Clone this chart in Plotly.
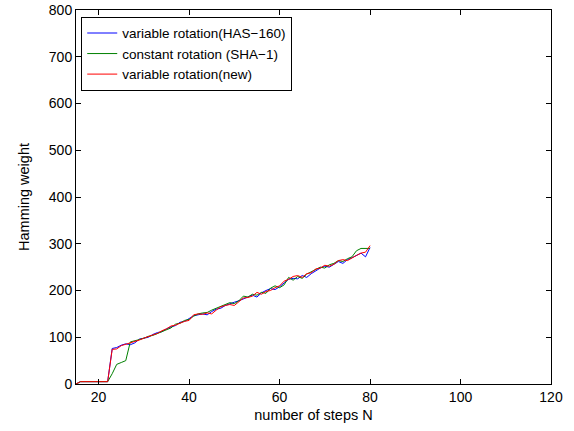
import plotly.graph_objects as go

steps = list(range(15, 81))

has160 = [0, 5, 5, 5, 5, 5, 5, 5,
          76, 78, 83, 86, 84, 88, 96, 98, 100, 106, 110, 112, 118, 122, 125, 132, 134, 140,
          146, 148, 150, 148, 155, 160, 162, 168, 172, 175, 178, 182, 185, 190, 186, 195,
          200, 204, 202, 208, 216, 224, 226, 225, 232, 228, 236, 242, 248, 252, 250, 256,
          262, 258, 266, 270, 275, 280, 272, 292]

sha1 = [0, 5, 5, 5, 5, 5, 5, 5,
        22, 42, 46, 50, 90, 92, 95, 98, 102, 104, 108, 113, 116, 120, 128, 130, 136, 138,
        145, 150, 152, 153, 158, 162, 165, 170, 174, 172, 178, 188, 186, 192, 190, 196,
        194, 205, 210, 206, 212, 228, 222, 230, 226, 235, 240, 246, 250, 248, 255, 258,
        264, 262, 268, 272, 285, 290, 290, 290]

new_rot = [0, 5, 5, 5, 5, 5, 5, 5,
           74, 75, 82, 85, 88, 90, 94, 98, 102, 105, 108, 114, 118, 124, 126, 130, 134, 136,
           148, 150, 149, 152, 150, 158, 165, 168, 170, 168, 176, 184, 185, 188, 196, 192,
           198, 200, 206, 210, 220, 224, 230, 232, 228, 236, 238, 246, 248, 254, 252, 256,
           264, 266, 264, 270, 275, 280, 282, 296]

names = ["variable rotation(HAS\u2212160)", "constant rotation (SHA\u22121)", "variable rotation(new)"]
colors = ["#0000ff", "#008000", "#ff0000"]
series = [has160, sha1, new_rot]

x_ticks = [20, 40, 60, 80, 100, 120]
y_ticks = [0, 100, 200, 300, 400, 500, 600, 700, 800]

fig = go.Figure()
for name, col, vals in zip(names, colors, series):
    fig.add_trace(go.Scatter(x=steps, y=vals, mode="lines", name=name,
                             line=dict(color=col, width=1)))

fam = "Liberation Sans, Arial, Helvetica, sans-serif"
tick_font = dict(family=fam, size=14, color="black")
title_font = dict(family=fam, size=14.5, color="black")
legend_font = dict(family=fam, size=13.5, color="black")

axis_common = dict(showline=True, linecolor="black", linewidth=1, mirror="ticks",
                   ticks="inside", ticklen=5, tickcolor="black", showgrid=False,
                   zeroline=False, tickfont=tick_font, automargin=False)

fig.update_layout(
    width=574, height=431,
    margin=dict(l=76, r=23, t=10, b=47),
    paper_bgcolor="white", plot_bgcolor="white",
    font=tick_font,
    xaxis=dict(range=[15, 120], tickvals=x_ticks,
               title=dict(text="number of steps N", font=title_font, standoff=6), **axis_common),
    yaxis=dict(range=[0, 800], tickvals=y_ticks,
               title=dict(text="Hamming weight", font=title_font, standoff=15), **axis_common),
    legend=dict(x=0.011, y=0.982, xanchor="left", yanchor="top",
                bordercolor="black", borderwidth=1, bgcolor="white",
                font=legend_font, tracegroupgap=0, itemwidth=30),
    showlegend=True,
)

fig.write_html("out.html", config={"displayModeBar": False},
               post_script="document.body.style.margin='0';document.body.style.overflow='hidden';")
